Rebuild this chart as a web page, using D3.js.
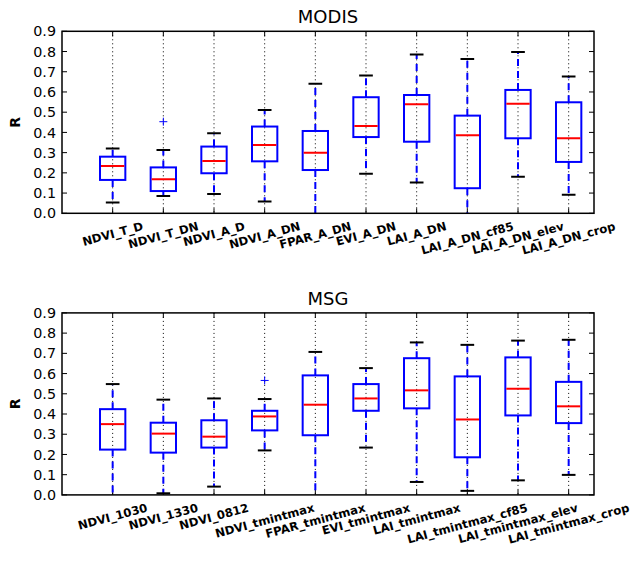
<!DOCTYPE html>
<meta charset="utf-8">
<script src="https://d3js.org/d3.v7.min.js"></script>
<style>
  body { margin: 0; background: #fff; }
  text { font-family: "DejaVu Sans", sans-serif; }
</style>
<div id="chart"></div>
<script>

// MODIS panel
var modisLabels = ["NDVI_T_D", "NDVI_T_DN", "NDVI_A_D", "NDVI_A_DN", "FPAR_A_DN",
                   "EVI_A_DN", "LAI_A_DN", "LAI_A_DN_cf85", "LAI_A_DN_elev", "LAI_A_DN_crop"];
var modisLow    = [0.053, 0.086, 0.096, 0.058, -0.05, 0.196, 0.152, -0.05, 0.181, 0.092];
var modisQ1     = [0.165, 0.110, 0.198, 0.257, 0.214, 0.377, 0.354, 0.124, 0.371, 0.254];
var modisMed    = [0.234, 0.168, 0.259, 0.338, 0.300, 0.432, 0.539, 0.386, 0.542, 0.371];
var modisQ3     = [0.280, 0.227, 0.330, 0.429, 0.407, 0.574, 0.585, 0.483, 0.610, 0.549];
var modisHigh   = [0.321, 0.313, 0.396, 0.511, 0.641, 0.681, 0.785, 0.763, 0.798, 0.676];
var modisFliers = [[], [0.453], [], [], [], [], [], [], [], []];

// MSG panel
var msgLabels = ["NDVI_1030", "NDVI_1330", "NDVI_0812", "NDVI_tmintmax", "FPAR_tmintmax",
                 "EVI_tmintmax", "LAI_tmintmax", "LAI_tmintmax_cf85", "LAI_tmintmax_elev", "LAI_tmintmax_crop"];
var msgLow    = [-0.05, 0.008, 0.041, 0.220, -0.05, 0.234, 0.064, 0.020, 0.072, 0.099];
var msgQ1     = [0.224, 0.209, 0.234, 0.319, 0.295, 0.416, 0.428, 0.186, 0.393, 0.355];
var msgMed    = [0.350, 0.303, 0.288, 0.388, 0.446, 0.477, 0.517, 0.373, 0.525, 0.438];
var msgQ3     = [0.424, 0.357, 0.369, 0.416, 0.591, 0.548, 0.676, 0.586, 0.680, 0.559];
var msgHigh   = [0.548, 0.471, 0.477, 0.474, 0.707, 0.627, 0.754, 0.742, 0.763, 0.767];
var msgFliers = [[], [], [], [0.566], [], [], [], [], [], []];

var yTicks = [0, 0.1, 0.2, 0.3, 0.4, 0.5, 0.6, 0.7, 0.8, 0.9];

var svg = d3.select("#chart").append("svg")
    .attr("width", 632)
    .attr("height", 564);

var panelNo = 0;

function drawPanel(title, top, labels, low, q1, med, q3, high, fliers) {
  var left = 62, right = 594, bottom = top + 182;
  var x = d3.scaleLinear().domain([0, 10.5]).range([left, right]);
  var y = d3.scaleLinear().domain([0, 0.9]).range([bottom, top]);
  var pos = labels.map(function(d, i) { return i + 1; });
  var g = svg.append("g");

  var clipId = "clip" + (panelNo++);
  svg.append("clipPath").attr("id", clipId)
    .append("rect")
      .attr("x", left).attr("y", top)
      .attr("width", right - left).attr("height", bottom - top);

  // dotted grid at box positions
  g.selectAll(".grid").data(pos).enter().append("line")
    .attr("x1", function(d) { return x(d); })
    .attr("x2", function(d) { return x(d); })
    .attr("y1", top).attr("y2", bottom)
    .attr("stroke", "#000").attr("stroke-width", 1)
    .attr("stroke-dasharray", "1,3");

  // inward ticks
  g.selectAll(".xt").data(pos).enter().append("path")
    .attr("d", function(d) {
      return "M" + x(d) + "," + bottom + "v-5M" + x(d) + "," + top + "v5";
    })
    .attr("stroke", "#000");
  g.selectAll(".yt").data(yTicks).enter().append("path")
    .attr("d", function(d) {
      return "M" + left + "," + y(d) + "h5M" + right + "," + y(d) + "h-5";
    })
    .attr("stroke", "#000");

  // y tick labels
  g.selectAll(".yl").data(yTicks).enter().append("text")
    .attr("x", left - 6)
    .attr("y", function(d) { return y(d); })
    .attr("dy", "0.36em")
    .attr("text-anchor", "end")
    .style("font-size", "14.3px")
    .text(function(d) { return d.toFixed(1); });

  var bw = x(0.5) - x(0), cw = x(0.27) - x(0);

  // whiskers
  var bx = g.selectAll(".box").data(pos).enter().append("g")
    .attr("clip-path", "url(#" + clipId + ")");
  bx.append("line")
    .attr("x1", function(d) { return x(d); }).attr("x2", function(d) { return x(d); })
    .attr("y1", function(d, i) { return y(q3[i]); })
    .attr("y2", function(d, i) { return y(high[i]); })
    .attr("stroke", "#0000ff").attr("stroke-width", 2).attr("stroke-dasharray", "7,5");
  bx.append("line")
    .attr("x1", function(d) { return x(d); }).attr("x2", function(d) { return x(d); })
    .attr("y1", function(d, i) { return y(q1[i]); })
    .attr("y2", function(d, i) { return y(low[i]); })
    .attr("stroke", "#0000ff").attr("stroke-width", 2).attr("stroke-dasharray", "7,5");
  // caps
  [high, low].forEach(function(arr) {
    bx.append("line")
      .attr("x1", function(d) { return x(d) - cw / 2; })
      .attr("x2", function(d) { return x(d) + cw / 2; })
      .attr("y1", function(d, i) { return y(arr[i]); })
      .attr("y2", function(d, i) { return y(arr[i]); })
      .attr("stroke", "#000").attr("stroke-width", 2);
  });
  // boxes
  bx.append("rect")
    .attr("x", function(d) { return x(d) - bw / 2; })
    .attr("width", bw)
    .attr("y", function(d, i) { return y(q3[i]); })
    .attr("height", function(d, i) { return y(q1[i]) - y(q3[i]); })
    .attr("fill", "none").attr("stroke", "#0000ff").attr("stroke-width", 2);
  bx.append("line")
    .attr("x1", function(d) { return x(d) - bw / 2 + 1; })
    .attr("x2", function(d) { return x(d) + bw / 2 - 1; })
    .attr("y1", function(d, i) { return y(med[i]); })
    .attr("y2", function(d, i) { return y(med[i]); })
    .attr("stroke", "#ff0000").attr("stroke-width", 2);
  // fliers
  bx.each(function(d, i) {
    d3.select(this).selectAll(".fl").data(fliers[i]).enter().append("path")
      .attr("d", function(v) {
        return "M" + (x(d) - 4) + "," + y(v) + "h8M" + x(d) + "," + (y(v) - 4) + "v8";
      })
      .attr("stroke", "#0000ff").attr("stroke-width", 1);
  });

  // frame
  g.append("rect")
    .attr("x", left).attr("y", top)
    .attr("width", right - left).attr("height", bottom - top)
    .attr("fill", "none").attr("stroke", "#000").attr("stroke-width", 1.5);

  // title
  g.append("text")
    .attr("x", (left + right) / 2).attr("y", top - 8)
    .attr("text-anchor", "middle")
    .style("font-size", "18px")
    .text(title);

  // y label
  g.append("text")
    .attr("transform", "translate(20," + (top + bottom) / 2 + ") rotate(-90)")
    .attr("text-anchor", "middle")
    .style("font-size", "14px").style("font-weight", "bold")
    .text("R");

  // rotated x labels, bbox top-aligned and centred on tick
  var fs = 11.7, a = 15 * Math.PI / 180, lh = fs * 1.17;
  g.selectAll(".xl").data(labels).enter().append("text")
    .style("font-size", fs + "px").style("font-weight", "bold")
    .attr("text-anchor", "middle")
    .attr("dominant-baseline", "central")
    .text(function(d) { return d; })
    .attr("transform", function(d, i) {
      var w = this.getComputedTextLength();
      var h = w * Math.sin(a) + lh * Math.cos(a);
      return "translate(" + x(i + 1) + "," + (bottom + 6 + h / 2) + ") rotate(-15)";
    });
}

drawPanel("MODIS", 31.3, modisLabels, modisLow, modisQ1, modisMed, modisQ3, modisHigh, modisFliers);
drawPanel("MSG", 312.9, msgLabels, msgLow, msgQ1, msgMed, msgQ3, msgHigh, msgFliers);

</script>
